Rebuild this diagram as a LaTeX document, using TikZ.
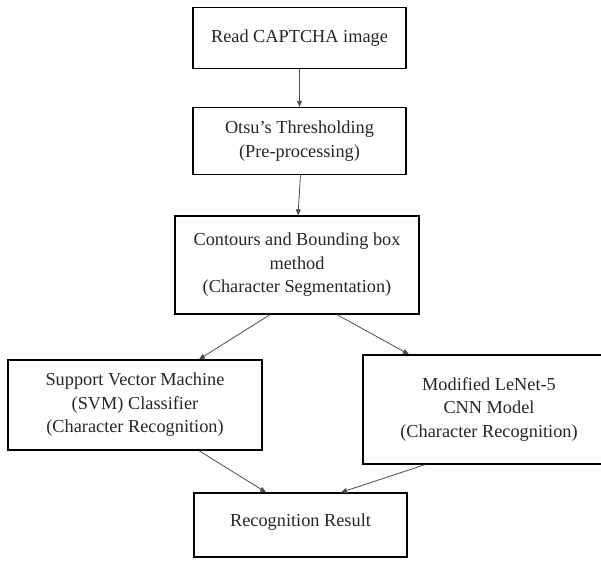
\documentclass[tikz,border=0pt]{standalone}
\usepackage{fontspec}
\setmainfont{Liberation Serif}
\usetikzlibrary{arrows.meta}
\begin{document}
\begin{tikzpicture}[x=1pt,y=-1pt,
  box/.style={draw=black,line width=1.3pt,inner sep=0pt,align=center,
    font=\fontsize{18.3}{23.5}\selectfont,text=black!85},
  conn/.style={draw=black!70,line width=0.8pt,-{Triangle[length=6pt,width=5pt]}}]
\useasboundingbox (0,0) rectangle (601,560);
\node[box,minimum width=213pt,minimum height=61pt] (b1) at (299.5,38) {Read CAPTCHA image};
\node[box,minimum width=213pt,minimum height=67pt] (b2) at (299.5,141) {Otsu’s Thresholding\\(Pre-processing)};
\node[box,minimum width=244pt,minimum height=98pt] (b3) at (297,265) {Contours and Bounding box\\method\\(Character Segmentation)};
\node[box,minimum width=254pt,minimum height=90pt] (b4) at (135,405) {Support Vector Machine\\(SVM) Classifier\\(Character Recognition)};
\node[box,minimum width=252pt,minimum height=109pt] (b5) at (489,409.5) {Modified LeNet-5\\CNN Model\\(Character Recognition)};
\node[box,minimum width=213pt,minimum height=64pt,text depth=10pt] (b6) at (300.5,525) {Recognition Result};
\draw[conn] (b1.south) -- (b2.north);
\draw[conn] ([xshift=1pt]b2.south) -- ([xshift=1pt]b3.north);
\draw[conn] ([xshift=-27pt]b3.south) -- ([xshift=64pt]b4.north);
\draw[conn] ([xshift=40pt]b3.south) -- ([xshift=-80pt]b5.north);
\draw[conn] ([xshift=64pt]b4.south) -- ([xshift=-34.5pt]b6.north);
\draw[conn] ([xshift=-64pt]b5.south) -- ([xshift=40.5pt]b6.north);
\end{tikzpicture}
\end{document}
